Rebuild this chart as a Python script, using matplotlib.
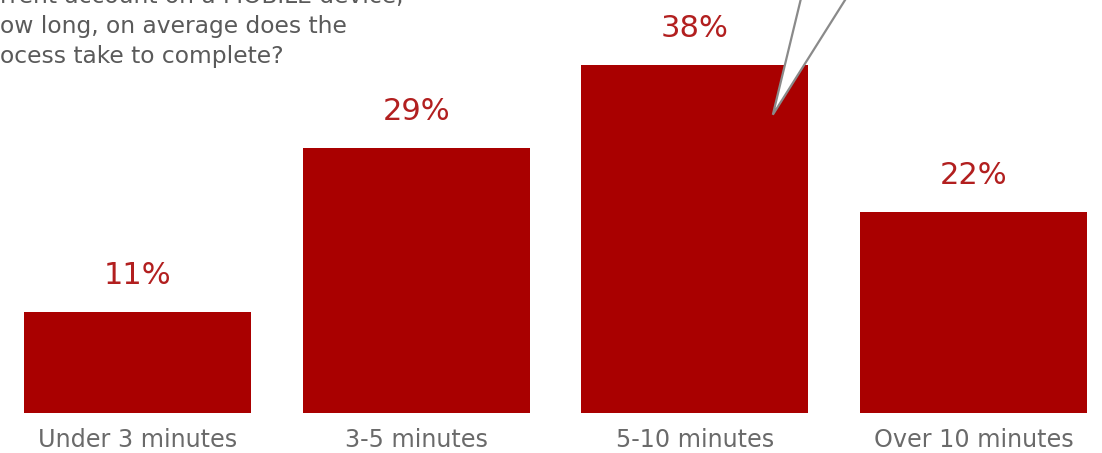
import matplotlib
matplotlib.use("Agg")
import matplotlib.pyplot as plt
from matplotlib.patches import Polygon

# data
categories = ["Under 3 minutes", "3-5 minutes", "5-10 minutes", "Over 10 minutes"]
values = [11, 29, 38, 22]
question_lines = ["rrent account on a MOBILE device,",
                  "ow long, on average does the",
                  "ocess take to complete?"]

bar_color = "#A90000"
label_color = "#B21F1F"
text_gray = "#6a6a6a"

plt.rcParams['font.family'] = ['DejaVu Sans']

fig = plt.figure(figsize=(11.02, 4.53), dpi=100)
W, H = 1102, 453
# axes placed in pixel space: baseline at 413 px from the top
ax = fig.add_axes([0, 40 / H, 1, 413 / H])
px_per_unit_x = 278.7
px_per_pct = 9.15
ax.set_xlim(-137.5 / px_per_unit_x, 3 + (W - 973.5) / px_per_unit_x)
ax.set_ylim(0, 413 / px_per_pct)
ax.axis('off')

x = range(len(categories))
bars = ax.bar(x, values, width=0.815, color=bar_color, zorder=2)

for xi, v in zip(x, values):
    ax.text(xi, v + 4.0, f"{v}%", ha='center', va='center', fontsize=22,
            color=label_color)
    ax.text(xi, -3.0, categories[xi], ha='center', va='center', fontsize=17.2,
            color=text_gray, clip_on=False)

# callout pointer into the 5-10 minutes bar
tip = (2 + 78 / px_per_unit_x, values[2] - 5.4)
top_y = 413 / px_per_pct + 1
pointer = Polygon([(2 + 108 / px_per_unit_x, top_y), tip, (2 + 156 / px_per_unit_x, top_y)],
                  closed=False, facecolor='white', edgecolor='#8a8a8a', linewidth=1.6,
                  zorder=3, clip_on=False)
ax.add_patch(pointer)

# question text, cut at the left edge
for i, line in enumerate(question_lines):
    fig.text(0, 1 - (-3 + 30 * i) / H, line, ha='left', va='center', fontsize=16.8,
             color="#5a5a5a")

fig.savefig("out.png", dpi=100)
